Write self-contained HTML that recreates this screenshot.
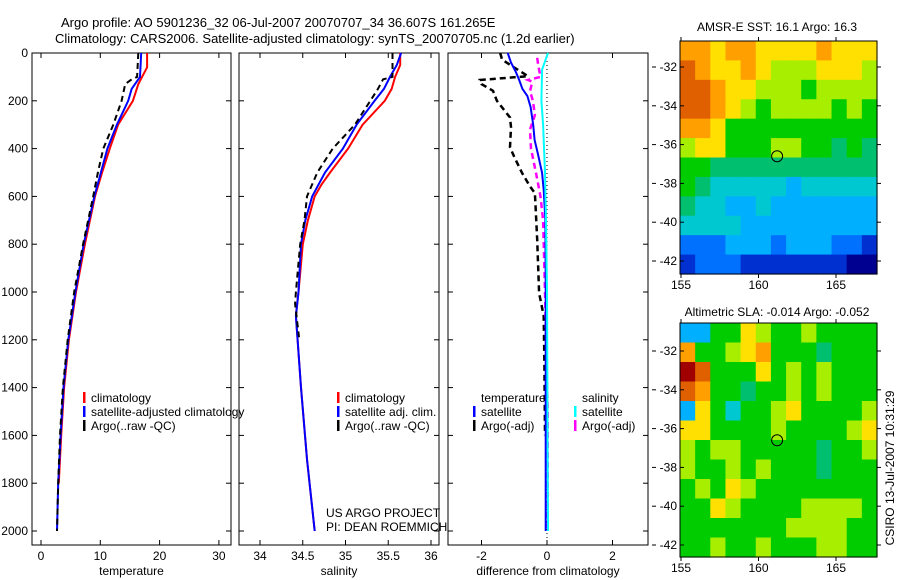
<!DOCTYPE html>
<html><head><meta charset="utf-8"><style>
body{margin:0;background:#fff}
svg{display:block;font-family:"Liberation Sans",sans-serif;font-size:12px}
</style></head><body>
<svg id="c" width="900" height="580" viewBox="0 0 900 580">
<text x="61" y="27" font-size="13">Argo profile: AO 5901236_32 06-Jul-2007 20070707_34 36.607S 161.265E</text>
<text x="55" y="43" font-size="13">Climatology: CARS2006. Satellite-adjusted climatology: synTS_20070705.nc (1.2d earlier)</text>
<text x="777" y="31" text-anchor="middle">AMSR-E SST: 16.1 Argo: 16.3</text>
<text x="777" y="316" text-anchor="middle">Altimetric SLA: -0.014 Argo: -0.052</text>
<text transform="translate(894,468) rotate(-90)" text-anchor="middle">CSIRO 13-Jul-2007 10:31:29</text>
<text x="326" y="517">US ARGO PROJECT</text>
<text x="326" y="531">PI: DEAN ROEMMICH</text>
</svg>
<script>
const depthTicks=[0,200,400,600,800,1000,1200,1400,1600,1800,2000];
const tempTicks=[0,10,20,30];
const salTicks=[34,34.5,35,35.5,36];
const diffTicks=[-2,0,2];
const tClimDepth=[0,60,130,200,300,400,500,600,800,1000,1200,1400,1600,1800];
const tClimVal=[17.9,17.9,16.4,15.5,13,11.6,10.3,9.1,7.4,5.9,4.7,3.9,3.4,3.0];
const tSatDepth=[0,100,150,200,300,400,500,600,800,1000,1200,1400,1600,1800,2000];
const tSatVal=[16.9,16.7,15.3,14.7,12.8,11.2,10.1,9.0,7.2,5.8,4.6,3.8,3.3,2.9,2.7];
const tArgoDepth=[0,100,110,130,200,300,400,500,600,800,1000,1200,1400,1600,1800,2000];
const tArgoVal=[16.4,16.2,15.3,14.2,13.6,12.2,10.5,9.6,8.8,7.1,5.6,4.5,3.7,3.2,2.9,2.7];
const sClimDepth=[0,50,100,150,200,300,400,500,550,600,700,800,1000,1100,1400,1700,2000];
const sClimVal=[35.64,35.64,35.58,35.54,35.46,35.2,35.03,34.82,34.72,34.64,34.56,34.5,34.45,34.42,34.48,34.55,34.64];
const sSatDepth=[0,50,100,150,200,300,400,500,600,700,800,1000,1100,1400,1700,2000];
const sSatVal=[35.65,35.6,35.52,35.45,35.34,35.13,34.97,34.76,34.61,34.53,34.48,34.45,34.42,34.48,34.55,34.64];
const sArgoDepth=[0,100,110,150,200,300,400,500,600,700,800,1000,1050,1200];
const sArgoVal=[35.55,35.55,35.44,35.38,35.29,35.11,34.85,34.67,34.55,34.52,34.47,34.42,34.41,34.46];
const dTSatDepth=[0,40,80,113,150,180,226,300,364,420,502,573,700,1000,2000];
const dTSatVal=[-1.2,-1.1,-0.95,-0.85,-0.75,-0.6,-0.5,-0.42,-0.38,-0.28,-0.15,-0.1,-0.05,-0.04,-0.04];
const dTArgoDepth=[0,28,55,97,113,130,158,200,270,310,394,435,502,558,586,781,1004,1100,1300,1600];
const dTArgoVal=[-1.43,-1.37,-1.07,-0.58,-2.05,-2.0,-1.65,-1.53,-1.13,-1.1,-1.13,-1.0,-0.76,-0.52,-0.37,-0.3,-0.24,-0.1,-0.08,-0.06];
const dSSatDepth=[0,30,70,200,300,500,700,1000,2000];
const dSSatVal=[0.03,-0.05,-0.15,-0.17,-0.12,-0.06,-0.03,0,0.03];
const dSArgoDepth=[20,50,100,113,120,160,200,260,320,400,500,600,700,1000,1500,2000];
const dSArgoVal=[-0.3,-0.27,-0.2,-0.58,-0.45,-0.52,-0.43,-0.37,-0.52,-0.49,-0.34,-0.2,-0.12,-0.06,0.02,0.02];
const sstGrid=[
[9,9,8,9,9,8,8,8,8,9,8,8,8],
[10,9,8,8,9,8,7,7,7,8,8,8,7],
[10,10,9,8,8,7,7,7,6,7,7,7,7],
[10,10,9,8,7,6,7,7,7,7,6,7,6],
[9,9,8,6,6,6,6,6,6,6,6,6,6],
[7,8,8,6,6,6,7,7,6,6,5,6,5],
[6,6,5,5,5,5,5,5,5,5,5,5,5],
[6,5,4,4,4,4,4,3,4,4,4,4,4],
[5,4,4,3,3,4,3,3,3,3,3,3,3],
[4,4,4,4,3,3,3,3,3,3,3,3,3],
[2,2,2,3,3,3,2,3,3,3,2,2,1],
[1,2,2,2,1,1,1,1,1,1,1,0,0]];
const slaGrid=[
[3,3,6,6,8,7,6,6,7,6,6,6,6],
[9,6,6,7,8,9,6,6,6,5,6,6,6],
[11,10,6,6,6,8,6,7,6,7,6,6,6],
[10,9,6,6,5,6,6,7,6,7,6,6,6],
[3,8,6,4,6,6,7,8,6,6,6,6,7],
[8,8,6,6,6,6,7,6,6,6,6,7,8],
[7,6,7,7,6,6,6,6,6,5,6,6,7],
[7,6,6,7,6,7,6,6,6,5,6,6,6],
[6,7,6,8,7,6,6,6,6,6,6,6,6],
[6,6,8,7,6,6,6,6,7,7,7,7,6],
[6,6,6,6,6,6,6,7,7,7,7,6,6],
[6,6,7,6,6,7,6,6,6,7,7,6,6]];
const latTicks=[-32,-34,-36,-38,-40,-42];
const lonTicks=[155,160,165];
const floatLon=161.2, floatLat=-36.6;

const NS='http://www.w3.org/2000/svg';
const svg=document.getElementById('c');
function el(tag,attrs,parent){const e=document.createElementNS(NS,tag);for(const k in attrs)e.setAttribute(k,attrs[k]);(parent||svg).appendChild(e);return e;}
const TOP=53,BOT=545;
const yD=d=>TOP+d*0.239;
const panels=[
 {x0:32,x1:231,f:v=>41+v*5.93,ticks:tempTicks,label:'temperature',name:'temperature-panel'},
 {x0:239,x1:439,f:v=>260+(v-34)*85.5,ticks:salTicks,label:'salinity',name:'salinity-panel'},
 {x0:448,x1:648,f:v=>547+v*32.75,ticks:diffTicks,label:'difference from climatology',name:'difference-panel'}];
panels.forEach((p,i)=>{
 const g=el('g',{});
 
 
 const r=el('rect',{x:p.x0,y:TOP,width:p.x1-p.x0,height:BOT-TOP,fill:'none',stroke:'#000','stroke-width':1},g);
 
 
 p.ticks.forEach(t=>{const x=p.f(t);
  el('line',{x1:x,x2:x,y1:TOP,y2:TOP+5,stroke:'#000'},g);
  el('line',{x1:x,x2:x,y1:BOT,y2:BOT-5,stroke:'#000'},g);
  const tx=el('text',{x:x,y:BOT+15,'text-anchor':'middle'},g);tx.textContent=t;
  
  });
 const xl=el('text',{x:(p.x0+p.x1)/2,y:BOT+30,'text-anchor':'middle'},g);xl.textContent=p.label;
 
 
 depthTicks.forEach(d=>{const y=yD(d);
  el('line',{x1:p.x0,x2:p.x0+5,y1:y,y2:y,stroke:'#000'},g);
  el('line',{x1:p.x1,x2:p.x1-5,y1:y,y2:y,stroke:'#000'},g);
  if(i==0){const t=el('text',{x:28,y:y+4,'text-anchor':'end'},g);t.textContent=d;
   
   }
 });
});
function line(p,ds,vs,color,dash,name,w){
 const pts=ds.map((d,i)=>p.f(vs[i]).toFixed(1)+','+yD(d).toFixed(1)).join(' ');
 const a={points:pts,fill:'none',stroke:color,'stroke-width':w||2};
 if(dash)a['stroke-dasharray']=dash;
 const e=el('polyline',a);
 
 
}
const P=panels;
line(P[0],tClimDepth,tClimVal,'#f00',null,'temp-climatology-line');
line(P[0],tSatDepth,tSatVal,'#00f',null,'temp-satellite-line');
line(P[0],tArgoDepth,tArgoVal,'#000','6,4','temp-argo-line');
line(P[1],sClimDepth,sClimVal,'#f00',null,'sal-climatology-line');
line(P[1],sSatDepth,sSatVal,'#00f',null,'sal-satellite-line');
line(P[1],sArgoDepth,sArgoVal,'#000','6,4','sal-argo-line');
const zl=el('line',{x1:P[2].f(0),x2:P[2].f(0),y1:TOP,y2:BOT,stroke:'#000','stroke-dasharray':'1,3'});


line(P[2],dTArgoDepth,dTArgoVal,'#000','6,4','diff-temp-argo-line',2.5);
line(P[2],dSArgoDepth,dSArgoVal,'#f0f','6,4','diff-sal-argo-line',2.5);
line(P[2],dTSatDepth,dTSatVal,'#00f',null,'diff-temp-satellite-line');
line(P[2],dSSatDepth,dSSatVal,'#0ff',null,'diff-sal-satellite-line');
function legend(x,y,color,text,name){
 const g=el('g',{});
 
 
 if(color)el('rect',{x:x,y:y-10,width:2.5,height:11,fill:color},g);
 const t=el('text',{x:x+8,y:y},g);t.textContent=text;
}
legend(83,402,'#f00','climatology','legend-climatology');
legend(83,416,'#00f','satellite-adjusted climatology','legend-satellite-adjusted');
legend(83,430,'#000','Argo(..raw -QC)','legend-argo');
legend(337,402,'#f00','climatology','legend-sal-climatology');
legend(337,416,'#00f','satellite adj. clim.','legend-sal-satellite');
legend(337,430,'#000','Argo(..raw -QC)','legend-sal-argo');
legend(473,402,null,'temperature','legend-temperature-heading');
legend(473,416,'#00f','satellite','legend-diff-temp-satellite');
legend(473,430,'#000','Argo(-adj)','legend-diff-temp-argo');
legend(574,402,null,'salinity','legend-salinity-heading');
legend(574,416,'#0ff','satellite','legend-diff-sal-satellite');
legend(574,430,'#f0f','Argo(-adj)','legend-diff-sal-argo');
const cmap=['#000090','#0030d0','#0070ff','#00b0ff','#00c8d0','#00c070','#00cc00','#a8ee00','#ffe000','#ffa000','#e06000','#a00000'];
function map(y0,y1,grid,name,latRef){
 const x0=680,x1=877,lon=v=>681+(v-155)*15.5,lat=v=>latRef+(-32-v)*19.4;
 const g=el('g',{});
 
 
 const rows=grid.length,cols=grid[0].length,cw=(x1-x0)/cols,ch=(y1-y0)/rows;
 grid.forEach((row,r)=>row.forEach((v,c)=>{
  const e=el('rect',{x:x0+c*cw,y:y0+r*ch,width:cw+0.6,height:ch+0.6,fill:cmap[v]},g);
  
  
 }));
 el('rect',{x:x0,y:y0,width:x1-x0,height:y1-y0,fill:'none',stroke:'#000'},g);
 latTicks.forEach(t=>{const y=lat(t);
  el('line',{x1:x0,x2:x0+4,y1:y,y2:y,stroke:'#000'},g);
  el('line',{x1:x1,x2:x1+4,y1:y,y2:y,stroke:'#000'},g);
  el('line',{x1:652,x2:656,y1:y,y2:y,stroke:'#000'},g);
  const tx=el('text',{x:677,y:y+4,'text-anchor':'end'},g);tx.textContent=t;
  
  });
 lonTicks.forEach(t=>{const x=lon(t);
  el('line',{x1:x,x2:x,y1:y1,y2:y1+4,stroke:'#000'},g);
  el('line',{x1:x,x2:x,y1:y0,y2:y0-4,stroke:'#000'},g);
  const tx=el('text',{x:x,y:y1+15,'text-anchor':'middle'},g);tx.textContent=t;
  
  });
 const c=el('circle',{cx:lon(floatLon),cy:lat(floatLat),r:5.5,fill:'none',stroke:'#000'},g);
 
 
}
map(41,274,sstGrid,'sst-map',67);
map(323,557,slaGrid,'sla-map',351);
</script>
</body></html>
